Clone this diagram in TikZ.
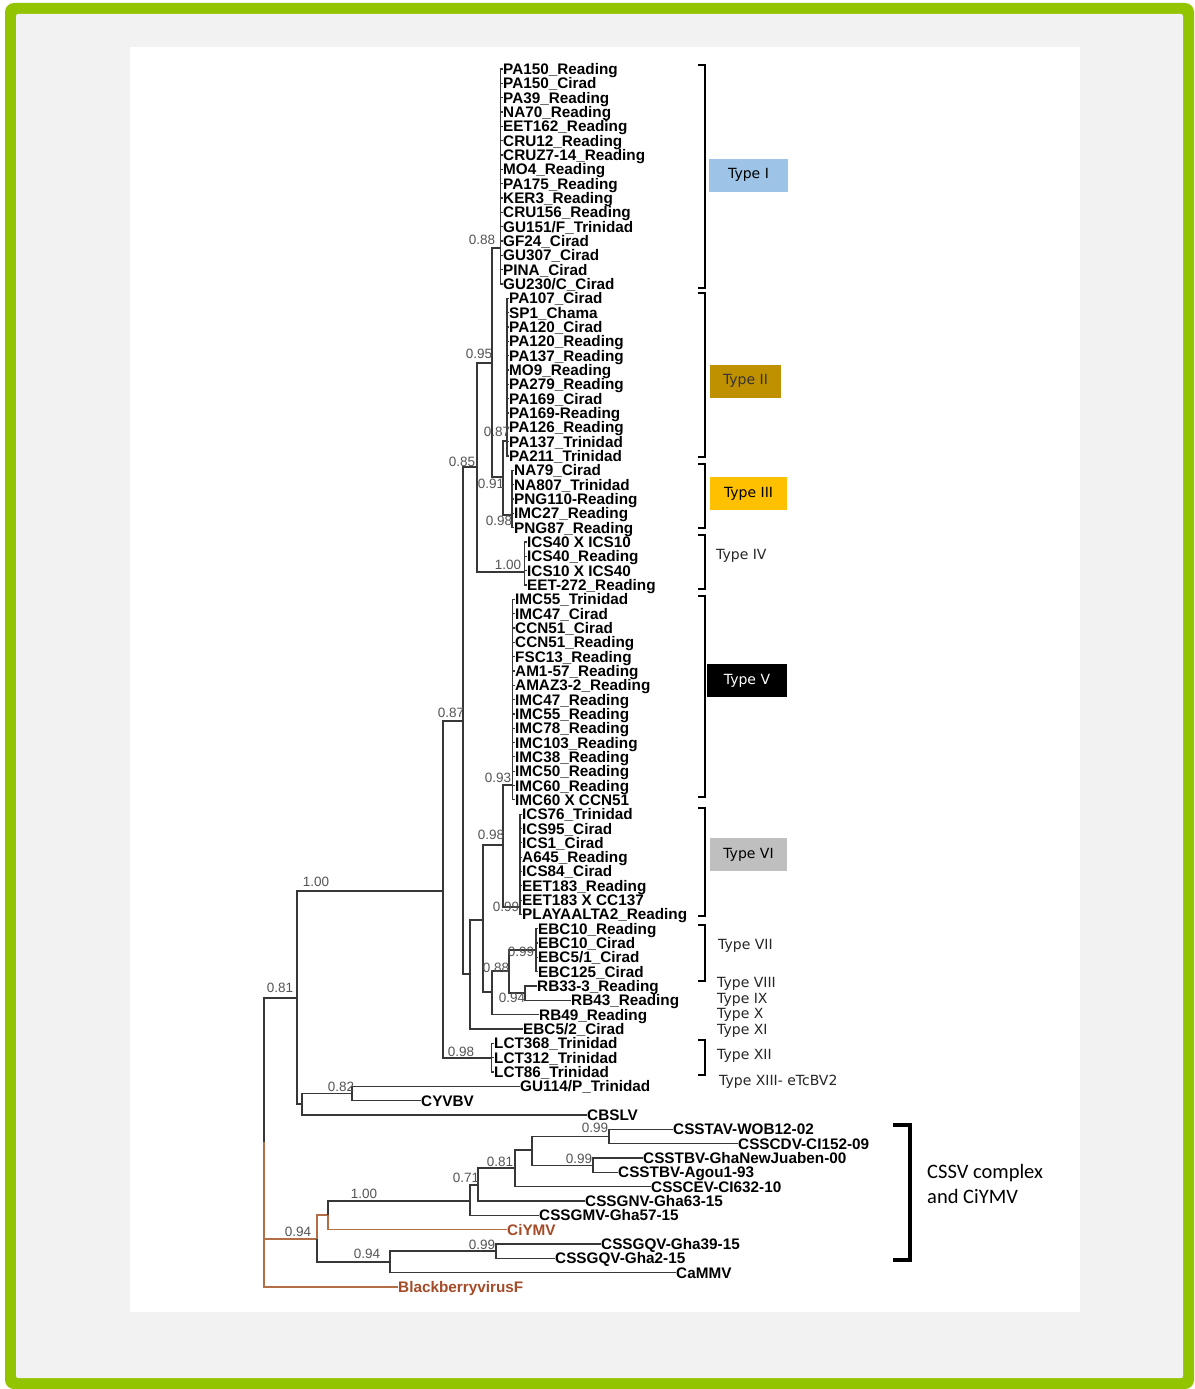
\documentclass[tikz,border=0pt]{standalone}
\usepackage{fontspec}
\setmainfont{Liberation Sans}
\newfontfamily\typefont{DejaVu Sans}
\newfontfamily\notefont{Carlito}
\usetikzlibrary{positioning}
\definecolor{framegreen}{RGB}{146,196,0}
\definecolor{panelgray}{RGB}{242,242,242}
\definecolor{branchgray}{RGB}{55,55,55}
\definecolor{supgray}{RGB}{85,85,85}
\definecolor{virbrown}{RGB}{165,75,40}
\definecolor{brbrown}{RGB}{180,110,70}
\definecolor{typeIblue}{RGB}{157,195,230}
\definecolor{typeIIgold}{RGB}{191,144,0}
\definecolor{typeIIIyellow}{RGB}{255,192,0}
\definecolor{typeVIgray}{RGB}{191,191,191}

\begin{document}
\begin{tikzpicture}[x=1pt, y=-1pt,
    branch/.style={draw=branchgray, line width=1.3pt},
    brbranch/.style={draw=brbrown, line width=1.3pt},
    taxon/.style={anchor=west, inner sep=0pt, text height=11pt, text depth=0pt,
      font=\fontsize{15.3}{16}\selectfont\bfseries},
    support/.style={inner sep=0pt, text=supgray, font=\fontsize{13.5}{14}\selectfont},
    clbracket/.style={draw=black, line width=2.4pt},
    typelabel/.style={anchor=west, inner sep=0pt, text=black!85,
      font=\typefont\fontsize{14}{15}\selectfont},
    typebox/.style={minimum height=33pt, inner sep=0pt,
      font=\typefont\fontsize{14}{15}\selectfont}]
  \useasboundingbox (0,0) rectangle (1194,1389);

  % frame and panel
  \fill[framegreen, rounded corners=9pt] (5,3) rectangle (1194,1389);
  \fill[panelgray, rounded corners=2pt] (16,14) rectangle (1183,1378);
  \fill[white] (130,47) rectangle (1080,1312);

  % taxa, one row each
  \foreach \name/\tx [count=\i from 0] in {
    PA150\_Reading/503, PA150\_Cirad/503, PA39\_Reading/503, NA70\_Reading/503,
    EET162\_Reading/503, CRU12\_Reading/503, CRUZ7-14\_Reading/503, MO4\_Reading/503,
    PA175\_Reading/503, KER3\_Reading/503, CRU156\_Reading/503, {GU151/F\_Trinidad}/503,
    GF24\_Cirad/503, GU307\_Cirad/503, PINA\_Cirad/503, {GU230/C\_Cirad}/503,
    PA107\_Cirad/509, SP1\_Chama/509, PA120\_Cirad/509, PA120\_Reading/509,
    PA137\_Reading/509, MO9\_Reading/509, PA279\_Reading/509, PA169\_Cirad/509,
    PA169-Reading/509, PA126\_Reading/509, PA137\_Trinidad/509, PA211\_Trinidad/509,
    NA79\_Cirad/514, NA807\_Trinidad/514, PNG110-Reading/514, IMC27\_Reading/514,
    PNG87\_Reading/514,
    ICS40 X ICS10/527, ICS40\_Reading/527, ICS10 X ICS40/527, EET-272\_Reading/527,
    IMC55\_Trinidad/515, IMC47\_Cirad/515, CCN51\_Cirad/515, CCN51\_Reading/515,
    FSC13\_Reading/515, AM1-57\_Reading/515, AMAZ3-2\_Reading/515, IMC47\_Reading/515,
    IMC55\_Reading/515, IMC78\_Reading/515, IMC103\_Reading/515, IMC38\_Reading/515,
    IMC50\_Reading/515, IMC60\_Reading/515, IMC60 X CCN51/515,
    ICS76\_Trinidad/522, ICS95\_Cirad/522, ICS1\_Cirad/522, A645\_Reading/522,
    ICS84\_Cirad/522, EET183\_Reading/522, EET183 X CC137/522, PLAYAALTA2\_Reading/522,
    EBC10\_Reading/538, EBC10\_Cirad/538, {EBC5/1\_Cirad}/538, EBC125\_Cirad/538,
    RB33-3\_Reading/537, RB43\_Reading/571, RB49\_Reading/539, {EBC5/2\_Cirad}/523,
    LCT368\_Trinidad/494, LCT312\_Trinidad/494, LCT86\_Trinidad/494,
    {GU114/P\_Trinidad}/520, CYVBV/421, CBSLV/587,
    CSSTAV-WOB12-02/673, CSSCDV-CI152-09/738, CSSTBV-GhaNewJuaben-00/643,
    CSSTBV-Agou1-93/618, CSSCEV-CI632-10/651, CSSGNV-Gha63-15/585,
    CSSGMV-Gha57-15/539, CiYMV/507, CSSGQV-Gha39-15/601, CSSGQV-Gha2-15/555,
    CaMMV/676, BlackberryvirusF/398}{
    \ifnum\i=81 \def\tcol{virbrown}\else\ifnum\i=85 \def\tcol{virbrown}\else\def\tcol{black}\fi\fi
    \node[taxon, text=\tcol] (t\i) at (\tx,{69+14.33*\i}) {\name};
  }

  % inner nodes
  \coordinate (root) at (264,1142);
  \coordinate (nM) at (297,998);
  \coordinate (nJ) at (443,891);
  \coordinate (nE) at (463,721);
  \coordinate (nC) at (477,467);
  \coordinate (nA) at (492,363);
  \coordinate (nB) at (503,477);
  \coordinate (cI) at (500.5,248);
  \coordinate (cII) at (507,441);
  \coordinate (cIII) at (512,515);
  \coordinate (cIV) at (524.5,572);
  \coordinate (nI) at (470,974);
  \coordinate (nS) at (483,920);
  \coordinate (nD) at (503,845);
  \coordinate (cV) at (512.5,785);
  \coordinate (cVI) at (520,907);
  \coordinate (nH) at (492,992);
  \coordinate (nF) at (509,971);
  \coordinate (cVII) at (536,950);
  \coordinate (nG) at (525,993);
  \coordinate (cXII) at (491.5,1058);
  \coordinate (nL) at (302,1104);
  \coordinate (nK) at (352,1093.6);
  \coordinate (nN) at (317,1239);
  \coordinate (nX) at (328,1215);
  \coordinate (nY) at (470,1201);
  \coordinate (nZ) at (478,1185);
  \coordinate (nW) at (515,1168);
  \coordinate (nV) at (532,1150);
  \coordinate (nU) at (609,1136.6);
  \coordinate (nT) at (593,1165.3);
  \coordinate (nP) at (390,1262);
  \coordinate (nQ) at (496,1251);

  % cacao badnaviruses
  \draw[branch] (root) |- (nM);
  \draw[branch] (nM) |- (nJ);
  \draw[branch] (nM) |- (nL);
  \draw[branch] (nJ) |- (nE);
  \draw[branch] (nJ) |- (cXII);
  \draw[branch] (nE) |- (nC);
  \draw[branch] (nE) |- (nI);
  \draw[branch] (nC) |- (nA);
  \draw[branch] (nC) |- (cIV);
  \draw[branch] (nA) |- (cI);
  \draw[branch] (nA) |- (nB);
  \draw[branch] (nB) |- (cII);
  \draw[branch] (nB) |- (cIII);
  \draw[branch] (nI) |- (nS);
  \draw[branch] (nI) |- (t67.west);
  \draw[branch] (nS) |- (nD);
  \draw[branch] (nS) |- (nH);
  \draw[branch] (nD) |- (cV);
  \draw[branch] (nD) |- (cVI);
  \draw[branch] (nH) |- (nF);
  \draw[branch] (nH) |- (t66.west);
  \draw[branch] (nF) |- (cVII);
  \draw[branch] (nF) |- (nG);
  \draw[branch] (nG) |- (t64.west);
  \draw[branch] (nG) |- (t65.west);
  \foreach \i in {0,...,15} \draw[branch] (cI) |- (t\i.west);
  \foreach \i in {16,...,27} \draw[branch] (cII) |- (t\i.west);
  \foreach \i in {28,...,32} \draw[branch] (cIII) |- (t\i.west);
  \foreach \i in {33,...,36} \draw[branch] (cIV) |- (t\i.west);
  \foreach \i in {37,...,51} \draw[branch] (cV) |- (t\i.west);
  \foreach \i in {52,...,59} \draw[branch] (cVI) |- (t\i.west);
  \foreach \i in {60,...,63} \draw[branch] (cVII) |- (t\i.west);
  \foreach \i in {68,...,70} \draw[branch] (cXII) |- (t\i.west);
  \draw[branch] (nL) |- (nK);
  \draw[branch] (nL) |- (t73.west);
  \draw[branch] (nK) |- (t71.west);
  \draw[branch] (nK) |- (t72.west);

  % CSSV complex, CiYMV and the outgroup
  \draw[brbranch] (root) |- (nN);
  \draw[brbranch] (root) |- (t85.west);
  \draw[brbranch] (nN) |- (nX);
  \draw[branch] (nN) |- (nP);
  \draw[brbranch] (nX) |- (t81.west);
  \draw[branch] (nX) |- (nY);
  \draw[branch] (nY) |- (nZ);
  \draw[branch] (nY) |- (t80.west);
  \draw[branch] (nZ) |- (nW);
  \draw[branch] (nZ) |- (t79.west);
  \draw[branch] (nW) |- (nV);
  \draw[branch] (nW) |- (t78.west);
  \draw[branch] (nV) |- (nU);
  \draw[branch] (nV) |- (nT);
  \draw[branch] (nU) |- (t74.west);
  \draw[branch] (nU) |- (t75.west);
  \draw[branch] (nT) |- (t76.west);
  \draw[branch] (nT) |- (t77.west);
  \draw[branch] (nP) |- (nQ);
  \draw[branch] (nP) |- (t84.west);
  \draw[branch] (nQ) |- (t82.west);
  \draw[branch] (nQ) |- (t83.west);

  % support values
  \foreach \sx/\sy/\sv [count=\k] in {482/240/0.88, 479/354/0.95, 497/432/0.87,
      462/462/0.85, 491/484/0.91, 499/521/0.98, 508/565/1.00, 451/713/0.87,
      498/778/0.93, 491/835/0.98, 506/907/0.99, 316/882/1.00, 521/952/0.99,
      496/968/0.88, 512/998/0.94, 461/1052/0.98, 280/988/0.81, 341/1087/0.82,
      595/1128/0.99, 579/1159/0.99, 500/1162/0.81, 466/1178/0.71, 364/1194/1.00,
      298/1232/0.94, 482/1245/0.99, 367/1254/0.94}
    \node[support] (sup\k) at (\sx,\sy) {\sv};

  % type brackets
  \foreach \ya/\yb in {65/288, 293/457, 464/528, 535/589, 596/797, 808/916,
      925/981, 1040/1075}
    \draw[clbracket] (698,\ya) -| (705,\yb) -- (698,\yb);

  \node[typebox, fill=typeIblue, minimum width=79pt] (typeI) at (748.5,175) {Type I};
  \node[typebox, fill=typeIIgold, minimum width=71pt, text=black!80] (typeII) at (745.5,381) {Type II};
  \node[typebox, fill=typeIIIyellow, minimum width=77pt] (typeIII) at (748.5,493.5) {Type III};
  \node[typelabel] (typeIV) at (716,556) {Type IV};
  \node[typebox, fill=black, text=white, minimum width=80pt] (typeV) at (747,680.5) {Type V};
  \node[typebox, fill=typeVIgray, minimum width=77pt] (typeVI) at (748.5,854.5) {Type VI};
  \node[typelabel] (typeVII) at (718,946) {Type VII};
  \node[typelabel] (typeVIII) at (717,984) {Type VIII};
  \node[typelabel] (typeIX) at (717,1000) {Type IX};
  \node[typelabel] (typeX) at (717,1015) {Type X};
  \node[typelabel] (typeXI) at (717,1031) {Type XI};
  \node[typelabel] (typeXII) at (717,1056) {Type XII};
  \node[typelabel] (typeXIII) at (719,1082) {Type XIII- eTcBV2};

  % CSSV bracket
  \draw[draw=black, line width=3.5pt] (893,1125) -| (910,1260) -- (893,1260);
  \node[anchor=west, align=left, inner sep=0pt,
    font=\notefont\fontsize{20.5}{24.5}\selectfont] (cssv) at (927,1184) {CSSV complex\\and CiYMV};
\end{tikzpicture}
\end{document}
